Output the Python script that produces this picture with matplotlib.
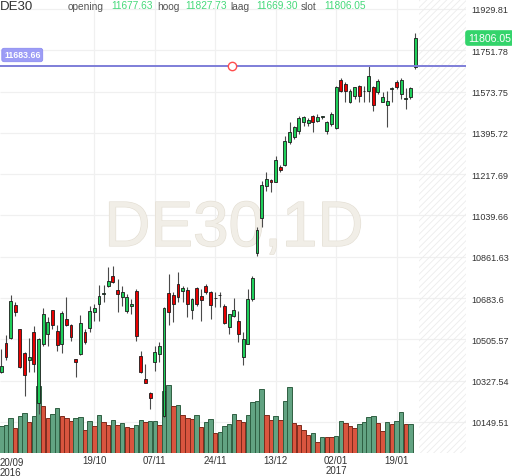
import numpy as np
import matplotlib
matplotlib.use("Agg")
import matplotlib.pyplot as plt
from matplotlib import patheffects

plt.rcParams['font.family'] = ['Liberation Sans', 'DejaVu Sans']

# daily DE30 candles, 20/09/2016 .. 24/01/2017 (last one is the open day)
opens = [10365, 10490, 10511, 10654, 10550, 10447, 10417, 10537, 10231, 10486,
         10529, 10632, 10542, 10486, 10593, 10568, 10421, 10443, 10537, 10555,
         10624, 10658, 10701, 10736, 10779, 10718, 10688, 10628, 10650, 10714,
         10434, 10335, 10274, 10408, 10443, 10175, 10706, 10697, 10744, 10714,
         10718, 10632, 10727, 10693, 10736, 10710, 10684, 10696, 10649, 10559,
         10606, 10585, 10430, 10486, 10680, 10878, 11029, 11167, 11193, 11184,
         11249, 11257, 11356, 11378, 11404, 11443, 11438, 11469, 11447, 11464,
         11404, 11434, 11417, 11624, 11606, 11529, 11555, 11598, 11575, 11576,
         11594, 11572, 11529, 11516, 11585, 11615, 11563, 11542, 11550, 11677.63]
highs = [10464, 10524, 10697, 10667, 10552, 10449, 10512, 10563, 10510, 10641,
         10602, 10634, 10568, 10628, 10688, 10572, 10423, 10611, 10550, 10649,
         10658, 10740, 10740, 10818, 10822, 10766, 10736, 10701, 10680, 10723,
         10455, 10399, 10279, 10477, 10494, 10643, 10787, 10710, 10796, 10736,
         10731, 10682, 10731, 10723, 10744, 10714, 10710, 10710, 10658, 10617,
         10684, 10628, 10537, 10723, 10779, 10990, 11188, 11227, 11197, 11296,
         11257, 11382, 11443, 11425, 11469, 11469, 11460, 11473, 11477, 11469,
         11447, 11486, 11598, 11632, 11615, 11585, 11595, 11600, 11598, 11684,
         11596, 11628, 11572, 11576, 11594, 11624, 11632, 11589, 11594, 11827.73]
lows = [10361, 10417, 10507, 10606, 10382, 10262, 10365, 10365, 10184, 10477,
        10477, 10550, 10455, 10447, 10563, 10499, 10343, 10440, 10486, 10537,
        10585, 10585, 10667, 10733, 10749, 10624, 10649, 10619, 10615, 10499,
        10361, 10316, 10205, 10369, 10408, 10171, 10568, 10580, 10667, 10667,
        10602, 10593, 10649, 10585, 10701, 10593, 10645, 10645, 10572, 10529,
        10602, 10494, 10395, 10484, 10671, 10865, 10990, 11145, 11141, 11182,
        11227, 11255, 11348, 11369, 11391, 11425, 11425, 11400, 11443, 11456,
        11391, 11425, 11412, 11572, 11529, 11525, 11542, 11529, 11529, 11529,
        11490, 11563, 11527, 11421, 11529, 11585, 11542, 11499, 11542, 11669.30]
closes = [10391, 10430, 10671, 10624, 10387, 10352, 10430, 10399, 10507, 10615,
          10580, 10568, 10481, 10619, 10568, 10516, 10408, 10576, 10494, 10628,
          10641, 10693, 10706, 10757, 10753, 10701, 10710, 10688, 10658, 10520,
          10365, 10318, 10253, 10451, 10477, 10641, 10624, 10658, 10688, 10727,
          10658, 10680, 10658, 10675, 10710, 10654, 10685, 10697, 10576, 10615,
          10632, 10529, 10507, 10680, 10770, 10977, 11171, 11197, 11184, 11279,
          11236, 11361, 11400, 11421, 11460, 11464, 11451, 11443, 11464, 11468,
          11443, 11477, 11594, 11576, 11576, 11576, 11593, 11555, 11577, 11641,
          11516, 11619, 11550, 11533, 11589, 11594, 11624, 11546, 11589, 11806.05]
# volume (k lots), none yet for the last day
volumes = [26.7, 28, 34.7, 24.7, 37.3, 39.7, 31.3, 37.3, 66.7, 46.7,
           34.7, 39, 44.7, 36.7, 34.7, 32.3, 34.7, 35.7, 23, 31.7,
           27.3, 38.3, 30.7, 28, 33, 28, 30, 25.7, 24.7, 28,
           33.3, 31.3, 32, 32.3, 28, 61.7, 68.3, 47.3, 48.3, 38.3,
           34.7, 34.2, 38.3, 26.3, 30.7, 34, 19.7, 21.3, 27.3, 29,
           39, 33, 30.7, 38.3, 50.7, 52.3, 64, 38.3, 33, 36.7,
           33, 51.7, 66.3, 30, 28.3, 23, 18, 20, 10.7, 16.3,
           16, 15.7, 17.3, 32.3, 30, 27.3, 25, 29, 31.3, 35.7,
           36.7, 30, 22.3, 31.3, 29, 32.3, 40.7, 29, 29]

price_ticks = [10149.51, 10327.54, 10505.57, 10683.6, 10861.63, 11039.66,
               11217.69, 11395.72, 11573.75, 11751.78, 11929.81]
price_labels = ['10149.51', '10327.54', '10505.57', '10683.6', '10861.63', '11039.66',
                '11217.69', '11395.72', '11573.75', '11751.78', '11929.81']
date_idx = [20, 33, 46, 59, 72, 85]
date_labels = ['19/10', '07/11', '24/11', '13/12', '02/01\n2017', '19/01']
first_label = '20/09\n2016'
level = 11683.66
level_mark_idx = 49.6

o = np.array(opens)
h = np.array(highs)
l = np.array(lows)
c = np.array(closes)
x = np.arange(len(o))
up = c >= o

fig = plt.figure(figsize=(5.12, 4.77), dpi=100)
rect = [0, 23 / 477, 466 / 512, 454 / 477]
xlim = (-0.28, 99.94)
ylim = (10015.7, 11972.9)

# volume axes underneath
axv = fig.add_axes(rect)
axv.set_xlim(*xlim)
axv.set_ylim(0, 454)
axv.axis('off')

ax = fig.add_axes(rect)
ax.patch.set_visible(False)
ax.set_xlim(*xlim)
ax.set_ylim(*ylim)

# grid (drawn on the lower axes so bars sit on top)
ytr = ax.get_yaxis_transform()
xtr = ax.get_xaxis_transform()
axv.hlines(price_ticks, 0, 1, transform=ytr, color='#f0f0f0', lw=0.9, zorder=0)
axv.vlines(date_idx, 0, 1, transform=xtr, color='#f0f0f0', lw=0.9, zorder=0)

# future area hatch
plt.rcParams['hatch.linewidth'] = 0.6
axv.axvspan(89.8, xlim[1], facecolor='none', edgecolor='#ececec', hatch='/////',
            linewidth=0, zorder=0)

# watermark
wm = axv.text(0.502, 0.456, 'DE30,1D', transform=axv.transAxes, ha='center',
              va='baseline', fontsize=46, color='#f1eee7', zorder=1)
wm.set_path_effects([patheffects.withStroke(linewidth=0.9, foreground='#e4dfd4')])

nv = len(volumes)
vol = np.array(volumes)
vup = np.r_[True, vol[1:] >= vol[:-1]]
axv.bar(x[:nv], vol, width=0.96,
        color=np.where(vup, '#62a382', '#d9553f'),
        edgecolor=np.where(vup, '#2f5f42', '#7d2b1c'), linewidth=0.7, zorder=2)

# candles
ax.vlines(x, l, h, color='#4a4a4a', lw=0.8, zorder=3)
body = np.maximum(np.abs(c - o), 1.5)
ax.bar(x, body, bottom=np.minimum(o, c), width=0.62,
       color=np.where(up, '#1fcf5a', '#e80000'), edgecolor='#1a1a1a',
       linewidth=0.6, zorder=4)

# horizontal level line
ax.axhline(level, color='#7e7ed8', lw=1.4, zorder=5)
ax.plot([level_mark_idx], [level], 'o', mfc='white', mec='#ff4d4d', ms=6, mew=1, zorder=6)
fig.text(4 / 512, 1 - 56 / 477, f'{level:.2f}', color='white', fontsize=6.3,
         fontweight='bold', va='center', ha='left',
         bbox=dict(boxstyle='round,pad=0.25', fc='#9d9df6', ec='#8c8cf0', lw=0.6))

# axis styling
for s in ax.spines.values():
    s.set_visible(False)
ax.yaxis.tick_right()
ax.set_yticks(price_ticks)
ax.set_yticklabels(price_labels)
ax.tick_params(axis='y', length=0, pad=4, labelsize=6.5, labelcolor='#333333')
ax.set_xticks(date_idx)
ax.set_xticklabels(date_labels, linespacing=0.95)
ax.tick_params(axis='x', length=0, pad=1.5, labelsize=7, labelcolor='#333333')
ax.text(0.0, -4 / 454, first_label, transform=ax.transAxes, ha='left', va='top',
        fontsize=7, color='#333333', linespacing=0.95)

# last price tag
fig.text(468 / 512, 1 - 39 / 477, f'{closes[-1]:.2f}', color='white', fontsize=7.6,
         va='center', ha='left',
         bbox=dict(boxstyle='round,pad=0.2', fc='#33d46b', ec='#33d46b'))

# header
fig.text(0.0, 1 - 10 / 477, 'DE30', fontsize=9.5, color='#333333', va='baseline')
hdr = [('opening', 68, False), (f'{opens[-1]:.2f}', 111, True),
       ('hoog', 157, False), (f'{highs[-1]:.2f}', 185, True),
       ('laag', 230, False), (f'{lows[-1]:.2f}', 256, True),
       ('slot', 301, False), (f'{closes[-1]:.2f}', 324, True)]
for txt, px, num in hdr:
    fig.text(px / 512, 1 - (9 if num else 10) / 477, txt, fontsize=7.3,
             color='#45d97a' if num else '#555555', va='baseline')

fig.savefig('out.png', dpi=100)
